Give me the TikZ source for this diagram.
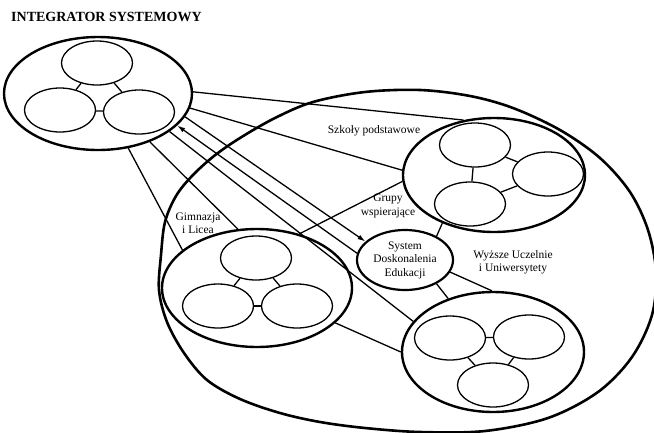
\documentclass[tikz,border=0pt]{standalone}
\usepackage{fontspec}
\setmainfont{Liberation Serif}
\usetikzlibrary{shapes.geometric,arrows.meta}

\begin{document}
\begin{tikzpicture}[x=1pt,y=-1pt,
  outer/.style={draw, ellipse, line width=2.4pt, inner sep=0pt},
  unit/.style={draw, ellipse, line width=1.3pt, inner sep=0pt,
               minimum width=71pt, minimum height=44pt},
  link/.style={line width=1.3pt},
  flow/.style={link, -{Latex[length=8pt,width=5pt]}},
  lbl/.style={inner sep=0pt, font=\fontsize{11.5}{13.5}\selectfont, align=center},
  heading/.style={inner sep=0pt, font=\fontsize{14}{16}\selectfont\bfseries}]

\useasboundingbox (0,0) rectangle (654,432);

% common field enclosing all education levels
\draw[line width=2.6pt] plot[smooth cycle, tension=0.55] coordinates {
  (159,290) (161,255) (165,222) (176,196) (192,176) (214,156) (240,138)
  (275,118) (313,102) (365,92) (420,90) (470,96) (513,108) (560,130)
  (600,158) (630,192) (648,230) (656,272) (652,315) (632,357) (598,392)
  (548,418) (485,431) (420,432) (365,428) (320,422) (280,413)
  (240,399) (207,380) (184,353) (167,322)};

% title
\node[heading, anchor=west] (title) at (11,17) {INTEGRATOR SYSTEMOWY};

% the integrator and the four groups of schools
\node[outer, minimum width=188pt, minimum height=113pt] (TL) at (98,93.5) {};
\node[outer, minimum width=182pt, minimum height=114pt] (SP) at (494,175) {};
\node[outer, minimum width=190pt, minimum height=118pt] (GL) at (257,288) {};
\node[outer, minimum width=182pt, minimum height=120pt] (WU) at (493,352) {};
\node[outer, line width=2.2pt, minimum width=96pt, minimum height=60pt] (SDE) at (405,260) {};
\node[lbl] (SDEtext) at (SDE.center) {System\\Doskonalenia\\Edukacji};

% three units inside each group
\node[unit] (TLa) at (97,63) {};
\node[unit] (TLb) at (60,110) {};
\node[unit] (TLc) at (139,112) {};
\draw[link] (TLa) -- (TLb);
\draw[link] (TLa) -- (TLc);
\draw[link] (TLb) -- (TLc);

\node[unit] (SPa) at (475,145) {};
\node[unit] (SPb) at (548,174) {};
\node[unit] (SPc) at (470,204) {};
\draw[link] (SPa) -- (SPb);
\draw[link] (SPa) -- (SPc);
\draw[link] (SPb) -- (SPc);

\node[unit] (GLa) at (256,258) {};
\node[unit] (GLb) at (218,306) {};
\node[unit] (GLc) at (297,306) {};
\draw[link] (GLa) -- (GLb);
\draw[link] (GLa) -- (GLc);
\draw[link] (GLb) -- (GLc);

\node[unit] (WUa) at (450,338) {};
\node[unit] (WUb) at (529,337) {};
\node[unit] (WUc) at (493,385) {};
\draw[link] (WUa) -- (WUb);
\draw[link] (WUa) -- (WUc);
\draw[link] (WUb) -- (WUc);

% connections between groups
\draw[link] (TL.1) -- (SP.119);
\draw[link] (TL.-9) -- (SP.177);
\draw[flow] (TL.-15) -- (SDE.155);
\draw[flow] (SDE.172) -- (TL.-22);
\draw[link] (TL.-28) -- (WU.159);
\draw[link] (TL.-43) -- (GL.108);
\draw[link] (TL.-61) -- (GL.153);
\draw[link] (SP.184) -- (GL.52);
\draw[link] (SP.-137) -- (SDE.37);
\draw[link] (SDE.-37) -- (WU.130);
\draw[link] (SDE.-15) -- (WU.91);
\draw[link] (GL.-24) -- (WU.180);

% group labels
\node[lbl] (tSP) at (374,131) {Szkoły podstawowe};
\node[lbl] (tGR) at (388,206) {Grupy\\wspierające};
\node[lbl] (tGL) at (198,223) {Gimnazja\\i Licea};
\node[lbl] (tWU) at (513,262) {Wyższe Uczelnie\\i Uniwersytety};

\end{tikzpicture}
\end{document}
